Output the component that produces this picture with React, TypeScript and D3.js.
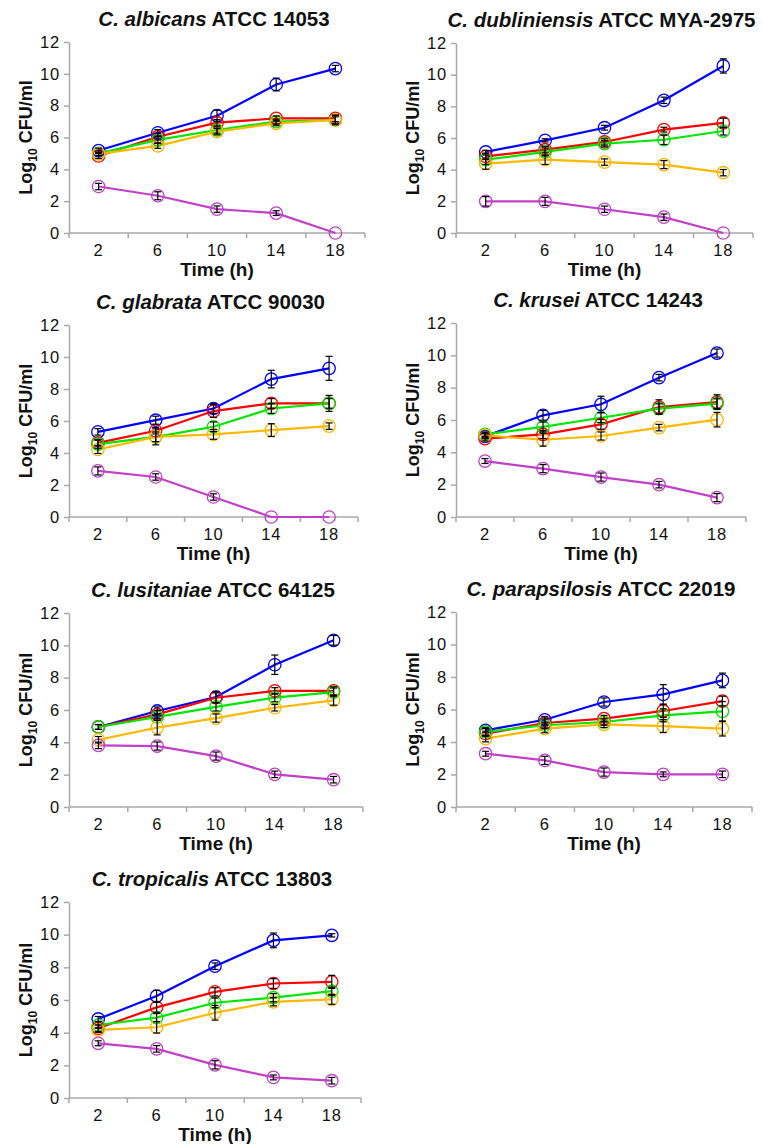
import React, { useEffect, useRef } from "react";
import * as d3 from "d3";

const times = ["2", "6", "10", "14", "18"];
const yTicks = [0, 2, 4, 6, 8, 10, 12];
const seriesColors = ["#0000ff", "#ff0000", "#00e600", "#ffb800", "#c040c8"];

const species = ["C. albicans", "C. dubliniensis", "C. glabrata", "C. krusei", "C. lusitaniae", "C. parapsilosis", "C. tropicalis"];
const strains = ["ATCC 14053", "ATCC MYA-2975", "ATCC 90030", "ATCC 14243", "ATCC 64125", "ATCC 22019", "ATCC 13803"];

// rows: blue, red, green, orange, purple
const albicansMean = [
  [5.18, 6.3, 7.37, 9.33, 10.33],
  [4.84, 6.05, 6.93, 7.2, 7.2],
  [5.0, 5.85, 6.47, 7.0, 7.1],
  [4.97, 5.47, 6.37, 6.89, 7.1],
  [2.92, 2.34, 1.5, 1.25, 0],
];
const albicansErr = [
  [0.15, 0.2, 0.35, 0.4, 0.2],
  [0.15, 0.2, 0.2, 0.15, 0.2],
  [0.15, 0.2, 0.2, 0.15, 0.2],
  [0.1, 0.15, 0.2, 0.15, 0.3],
  [0.2, 0.25, 0.2, 0.15, 0],
];

const dubliniensisMean = [
  [5.12, 5.85, 6.65, 8.38, 10.55],
  [4.84, 5.26, 5.75, 6.53, 6.95],
  [4.63, 5.12, 5.64, 5.89, 6.44],
  [4.38, 4.63, 4.48, 4.32, 3.81],
  [2.0, 2.0, 1.5, 1.0, 0],
];
const dubliniensisErr = [
  [0.1, 0.1, 0.15, 0.2, 0.45],
  [0.2, 0.2, 0.2, 0.15, 0.3],
  [0.3, 0.25, 0.2, 0.3, 0.25],
  [0.35, 0.3, 0.2, 0.25, 0.2],
  [0.3, 0.25, 0.2, 0.2, 0],
];

const glabrataMean = [
  [5.32, 6.05, 6.78, 8.62, 9.29],
  [4.63, 5.39, 6.62, 7.1, 7.1],
  [4.55, 5.01, 5.64, 6.78, 7.1],
  [4.22, 5.01, 5.16, 5.43, 5.68],
  [2.88, 2.5, 1.25, 0, 0],
];
const glabrataErr = [
  [0.2, 0.25, 0.3, 0.55, 0.75],
  [0.2, 0.2, 0.4, 0.3, 0.3],
  [0.25, 0.5, 0.3, 0.3, 0.5],
  [0.25, 0.3, 0.3, 0.4, 0.2],
  [0.25, 0.2, 0.2, 0, 0],
];

const kruseiMean = [
  [4.99, 6.29, 6.97, 8.62, 10.14],
  [4.85, 5.11, 5.73, 6.8, 7.11],
  [5.11, 5.57, 6.14, 6.7, 7.01],
  [5.05, 4.78, 5.01, 5.53, 6.02],
  [3.46, 2.99, 2.47, 2.0, 1.2],
];
const kruseiErr = [
  [0.15, 0.3, 0.5, 0.2, 0.25],
  [0.15, 0.25, 0.3, 0.45, 0.45],
  [0.15, 0.3, 0.3, 0.3, 0.3],
  [0.15, 0.4, 0.25, 0.2, 0.45],
  [0.15, 0.25, 0.25, 0.2, 0.25],
];

const lusitaniaeMean = [
  [4.95, 5.94, 6.8, 8.8, 10.31],
  [4.95, 5.73, 6.76, 7.18, 7.18],
  [4.95, 5.57, 6.19, 6.76, 7.11],
  [4.16, 4.91, 5.5, 6.14, 6.6],
  [3.81, 3.77, 3.15, 2.02, 1.69],
];
const lusitaniaeErr = [
  [0.15, 0.25, 0.35, 0.6, 0.3],
  [0.15, 0.25, 0.3, 0.2, 0.25],
  [0.15, 0.2, 0.25, 0.25, 0.25],
  [0.2, 0.45, 0.25, 0.2, 0.3],
  [0.2, 0.25, 0.25, 0.2, 0.2],
];

const parapsilosisMean = [
  [4.72, 5.37, 6.46, 6.93, 7.79],
  [4.51, 5.17, 5.44, 5.91, 6.52],
  [4.62, 5.03, 5.23, 5.64, 5.89],
  [4.21, 4.82, 5.09, 4.98, 4.82],
  [3.28, 2.87, 2.15, 2.01, 2.01],
];
const parapsilosisErr = [
  [0.15, 0.2, 0.25, 0.6, 0.45],
  [0.15, 0.25, 0.2, 0.4, 0.3],
  [0.2, 0.2, 0.2, 0.4, 0.6],
  [0.2, 0.25, 0.2, 0.4, 0.45],
  [0.15, 0.25, 0.25, 0.15, 0.2],
];

const tropicalisMean = [
  [4.84, 6.24, 8.07, 9.65, 9.96],
  [4.27, 5.55, 6.5, 7.01, 7.11],
  [4.47, 4.92, 5.83, 6.14, 6.54],
  [4.17, 4.33, 5.22, 5.89, 6.04],
  [3.35, 3.01, 2.03, 1.26, 1.06],
];
const tropicalisErr = [
  [0.15, 0.35, 0.2, 0.45, 0.1],
  [0.2, 0.3, 0.25, 0.3, 0.4],
  [0.2, 0.25, 0.3, 0.25, 0.25],
  [0.15, 0.35, 0.45, 0.25, 0.3],
  [0.15, 0.2, 0.25, 0.15, 0.2],
];

const means = [albicansMean, dubliniensisMean, glabrataMean, kruseiMean, lusitaniaeMean, parapsilosisMean, tropicalisMean];
const errs = [albicansErr, dubliniensisErr, glabrataErr, kruseiErr, lusitaniaeErr, parapsilosisErr, tropicalisErr];

// plot-area frames for each panel
const frames = [
  { x: 69, y: 42, w: 296, h: 191 },
  { x: 456, y: 43, w: 297, h: 190 },
  { x: 69, y: 325, w: 289, h: 192 },
  { x: 456, y: 323, w: 290, h: 194 },
  { x: 69, y: 613, w: 294, h: 194 },
  { x: 456, y: 612, w: 296, h: 195 },
  { x: 69, y: 902, w: 292, h: 196 },
];

const font = "'Liberation Sans', Arial, Helvetica, sans-serif";
const axisColor = "#a8a8a8";

export default function App() {
  const ref = useRef<SVGSVGElement>(null);

  useEffect(() => {
    const svg = d3.select(ref.current);
    svg.selectAll("*").remove();

    frames.forEach((f, p) => {
      const g = svg.append("g");
      const x = d3.scaleBand<string>().domain(times).range([f.x, f.x + f.w]);
      const y = d3.scaleLinear().domain([0, 12]).range([f.y + f.h, f.y]);
      const cx = (t: string) => (x(t) as number) + x.bandwidth() / 2;

      // y axis
      const ya = g.append("g").attr("transform", `translate(${f.x},0)`)
        .call(d3.axisLeft(y).tickValues(yTicks).tickSize(5).tickSizeOuter(0).tickPadding(4));
      ya.select(".domain").attr("stroke", axisColor).attr("stroke-width", 1.5);
      ya.selectAll(".tick line").attr("stroke", axisColor).attr("stroke-width", 1.5);
      ya.selectAll(".tick text").attr("font-family", font).attr("font-size", 16.5)
        .attr("letter-spacing", 0.8).attr("fill", "#111");

      // x axis: ticks on band edges, labels in band centres
      const xa = g.append("g").attr("transform", `translate(0,${f.y + f.h})`);
      xa.append("line").attr("x1", f.x).attr("x2", f.x + f.w)
        .attr("stroke", axisColor).attr("stroke-width", 1.5);
      const edges = times.map((t) => x(t) as number).concat([f.x + f.w]);
      xa.selectAll("line.tk").data(edges).enter().append("line").attr("class", "tk")
        .attr("x1", (d) => d).attr("x2", (d) => d).attr("y1", 0).attr("y2", 5)
        .attr("stroke", axisColor).attr("stroke-width", 1.5);
      xa.selectAll("text").data(times).enter().append("text")
        .attr("x", (d) => cx(d)).attr("y", 23)
        .attr("text-anchor", "middle").attr("font-family", font).attr("font-size", 16.5)
        .attr("letter-spacing", 0.8).attr("fill", "#111")
        .text((d) => d);

      // titles
      const title = g.append("text").attr("x", f.x + f.w / 2 - 3).attr("y", f.y - 16)
        .attr("text-anchor", "middle").attr("font-family", font).attr("font-size", 20.5)
        .attr("font-weight", "bold").attr("fill", "#111");
      title.append("tspan").attr("font-style", "italic").text(species[p]);
      title.append("tspan").text(" " + strains[p]);

      g.append("text").attr("x", f.x + f.w / 2).attr("y", f.y + f.h + 43)
        .attr("text-anchor", "middle").attr("font-family", font).attr("font-size", 19)
        .attr("font-weight", "bold").attr("fill", "#111").text("Time (h)");

      const yl = g.append("text")
        .attr("transform", `translate(${f.x - 37},${f.y + f.h / 2}) rotate(-90)`)
        .attr("text-anchor", "middle").attr("font-family", font).attr("font-size", 18)
        .attr("font-weight", "bold").attr("fill", "#111");
      yl.append("tspan").text("Log");
      yl.append("tspan").attr("font-size", 12).attr("dy", 5).text("10");
      yl.append("tspan").attr("dy", -5).text(" CFU/ml");

      // series
      const line = d3.line<number>().x((_, i) => cx(times[i])).y((d) => y(d));
      means[p].forEach((row, s) => {
        g.append("path").attr("d", line(row) as string).attr("fill", "none")
          .attr("stroke", seriesColors[s]).attr("stroke-width", 2.2);
      });
      means[p].forEach((row, s) => {
        g.selectAll(null).data(row).enter().append("circle")
          .attr("cx", (_, i) => cx(times[i])).attr("cy", (d) => y(d)).attr("r", 6.2)
          .attr("fill", "none").attr("stroke", seriesColors[s]).attr("stroke-width", 1.3);
      });
      means[p].forEach((row, s) => {
        row.forEach((m, i) => {
          const e = errs[p][s][i];
          if (!e) return;
          const px = cx(times[i]);
          const eb = g.append("g").attr("stroke", "#000").attr("stroke-width", 1.2);
          eb.append("line").attr("x1", px).attr("x2", px).attr("y1", y(m - e)).attr("y2", y(m + e));
          eb.append("line").attr("x1", px - 3.5).attr("x2", px + 3.5).attr("y1", y(m - e)).attr("y2", y(m - e));
          eb.append("line").attr("x1", px - 3.5).attr("x2", px + 3.5).attr("y1", y(m + e)).attr("y2", y(m + e));
        });
      });
    });
  }, []);

  return (
    <svg ref={ref} width={763} height={1144}
      style={{ position: "absolute", left: 0, top: 0, background: "#fff" }} />
  );
}
